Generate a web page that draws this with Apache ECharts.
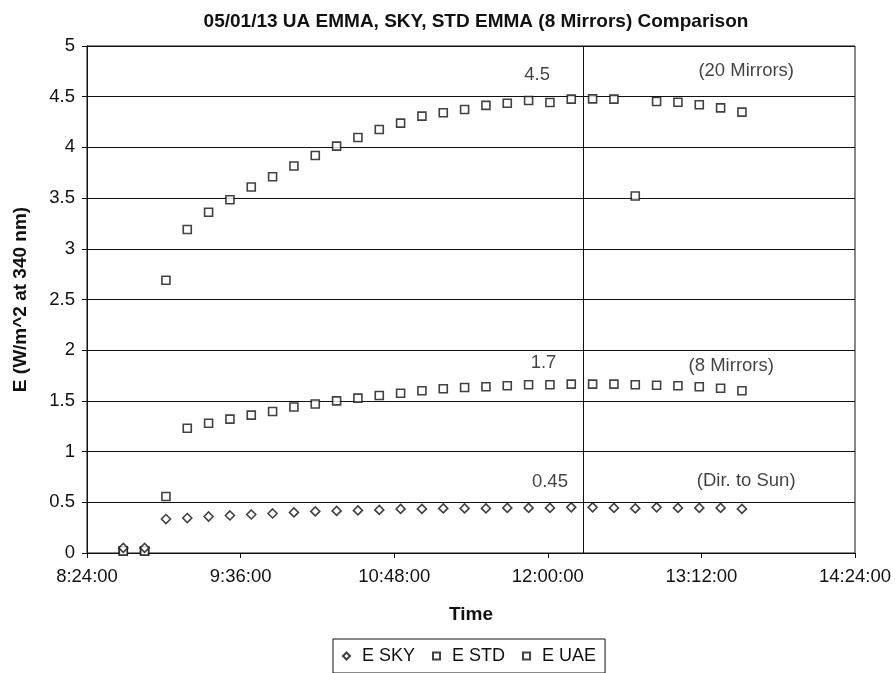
<!DOCTYPE html>
<html>
<head>
<meta charset="utf-8">
<script src="https://cdn.jsdelivr.net/npm/echarts@6/dist/echarts.min.js"></script>
<style>
    html, body { margin: 0; padding: 0; background: #fff; }
    #chart { width: 895px; height: 673px; }
</style>
</head>
<body>
<div id="chart"></div>
<script>
// sample times (h:mm), one every ~10 min
var times = ['8:41', '8:51', '9:01', '9:11', '9:21', '9:31', '9:41', '9:51', '10:01', '10:11',
    '10:21', '10:31', '10:41', '10:51', '11:01', '11:11', '11:21', '11:31', '11:41', '11:51',
    '12:01', '12:11', '12:21', '12:31', '12:41', '12:51', '13:01', '13:11', '13:21', '13:31'];

var eSky = [0.05, 0.05, 0.335, 0.345, 0.36, 0.37, 0.38, 0.39, 0.40, 0.41,
    0.415, 0.42, 0.425, 0.435, 0.435, 0.44, 0.44, 0.44, 0.445, 0.445,
    0.445, 0.45, 0.45, 0.445, 0.44, 0.45, 0.445, 0.445, 0.445, 0.435];

var eStd = [0.02, 0.02, 0.557, 1.23, 1.28, 1.32, 1.36, 1.395, 1.44, 1.47,
    1.50, 1.527, 1.553, 1.576, 1.60, 1.62, 1.632, 1.64, 1.65, 1.66,
    1.66, 1.665, 1.665, 1.665, 1.66, 1.655, 1.65, 1.64, 1.625, 1.60];

var eUae = [0.02, 0.02, 2.69, 3.19, 3.36, 3.484, 3.609, 3.71, 3.816, 3.92,
    4.013, 4.098, 4.177, 4.239, 4.308, 4.341, 4.374, 4.414, 4.436, 4.463,
    4.443, 4.476, 4.479, 4.476, 3.52, 4.453, 4.446, 4.42, 4.39, 4.348];

// text notes on the plot: [time, value, text]
var notes = [
    ['11:55', 4.71, '4.5'], ['13:33', 4.75, '(20 Mirrors)'],
    ['11:58', 1.87, '1.7'], ['13:26', 1.845, '(8 Mirrors)'],
    ['12:01', 0.705, '0.45'], ['13:33', 0.712, '(Dir. to Sun)']
];

var cutTime = '12:16:36';   // vertical marker

var xMin = '8:24:00', xMax = '14:24:00', xStep = 72;

function toMin(s) {
    var p = s.split(':');
    return (+p[0]) * 60 + (+p[1]) + (p[2] ? (+p[2]) / 60 : 0);
}
function fmt(v) {
    var h = Math.floor(v / 60), m = Math.round(v - h * 60);
    return h + ':' + (m < 10 ? '0' + m : m) + ':00';
}
function pairs(vals) {
    return vals.map(function (v, i) { return [toMin(times[i]), v]; });
}

var ink = '#111';
var font = 'Liberation Sans, Arial, sans-serif';

var chart = echarts.init(document.getElementById('chart'));
var markerStyle = { color: '#fff', borderColor: ink, borderWidth: 1.6 };

chart.setOption({
    animation: false,
    textStyle: { fontFamily: font, color: ink },
    title: {
        text: '05/01/13 UA EMMA, SKY, STD EMMA (8 Mirrors) Comparison',
        left: 471, top: 7, textAlign: 'center',
        textStyle: { fontSize: 19, fontWeight: 'bold', color: ink, fontFamily: font }
    },
    grid: {
        left: 87, right: 40, top: 46, bottom: 120,
        show: true, borderColor: ink, borderWidth: 1, backgroundColor: '#fff'
    },
    legend: {
        data: ['E SKY', 'E STD', 'E UAE'],
        left: 333, top: 639,
        padding: [8, 9],
        borderColor: ink, borderWidth: 1,
        itemWidth: 7, itemHeight: 7, itemGap: 17,
        textStyle: { fontSize: 18, color: ink, fontFamily: font, padding: [0, 0, 0, 7] }
    },
    xAxis: {
        type: 'value',
        min: toMin(xMin), max: toMin(xMax), interval: xStep,
        name: 'Time', nameLocation: 'middle', nameGap: 52,
        nameTextStyle: { fontSize: 19, fontWeight: 'bold', color: ink },
        axisLine: { lineStyle: { color: ink } },
        axisTick: { show: true, length: 5, lineStyle: { color: ink } },
        axisLabel: { formatter: fmt, fontSize: 18.5, color: ink, margin: 14 },
        splitLine: { show: false }
    },
    yAxis: {
        type: 'value',
        min: 0, max: 5, interval: 0.5,
        name: 'E (W/m^2 at 340 nm)', nameLocation: 'middle', nameGap: 57,
        nameTextStyle: { fontSize: 19, fontWeight: 'bold', color: ink },
        axisLine: { show: true, lineStyle: { color: ink } },
        axisTick: { show: true, length: 5, lineStyle: { color: ink } },
        axisLabel: { fontSize: 18.5, color: ink, margin: 12 },
        splitLine: { show: true, lineStyle: { color: ink, width: 1 } }
    },
    series: [
        {
            name: 'E SKY', type: 'scatter', symbol: 'diamond', symbolSize: 9,
            itemStyle: markerStyle, data: pairs(eSky), z: 4,
            markLine: {
                silent: true, symbol: 'none', label: { show: false },
                lineStyle: { color: ink, width: 1, type: 'solid' },
                data: [{ xAxis: toMin(cutTime) }]
            }
        },
        {
            name: 'E STD', type: 'scatter', symbol: 'rect', symbolSize: 8,
            itemStyle: markerStyle, data: pairs(eStd), z: 3
        },
        {
            name: 'E UAE', type: 'scatter', symbol: 'rect', symbolSize: 8,
            itemStyle: markerStyle, data: pairs(eUae), z: 3
        },
        {
            name: 'notes', type: 'scatter', symbolSize: 0, silent: true,
            data: notes.map(function (n) { return [toMin(n[0]), n[1], n[2]]; }),
            label: {
                show: true, position: 'inside', fontSize: 18.5, color: ink,
                formatter: function (p) { return p.data[2]; }
            }
        }
    ]
});
</script>
</body>
</html>
